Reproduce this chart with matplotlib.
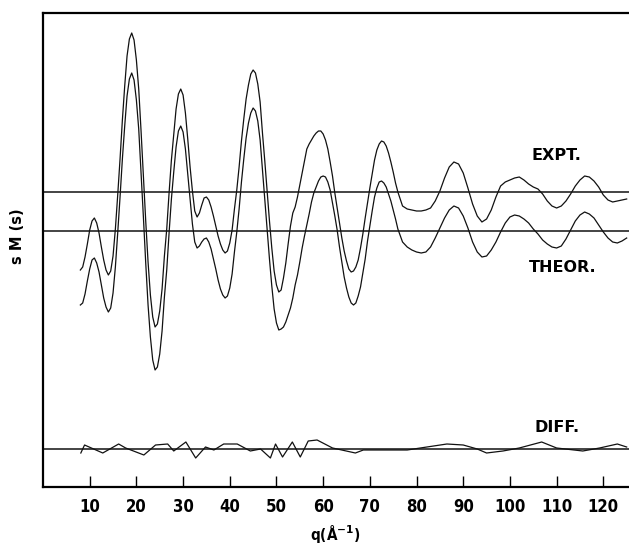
import matplotlib
matplotlib.use('Agg')
import matplotlib.pyplot as plt

# scattering variable q (A^-1): half steps up to 76, whole steps after
q = [i / 2 for i in range(16, 153)] + list(range(77, 126))

# experimental sM(s), relative to its own baseline (arbitrary units)
expt = [
    -78, -75, -65, -52, -38, -29, -26, -31, -41, -55,      # 8 - 12.5
    -68, -78, -83, -79, -64, -37, -3, 33, 72, 106,         # 13 - 17.5
    136, 153, 159, 152, 132, 103, 61, 16, -29, -70,        # 18 - 22.5
    -103, -125, -135, -132, -119, -97, -64, -37, -1, 32,   # 23 - 27.5
    58, 83, 98, 103, 97, 79, 53, 25, 1, -19,               # 28 - 32.5
    -25, -21, -13, -6, -5, -8, -15, -24, -34, -44,         # 33 - 37.5
    -52, -58, -61, -59, -51, -38, -17, 2, 25, 51,          # 38 - 42.5
    73, 93, 107, 118, 122, 119, 108, 90, 59, 31,           # 43 - 47.5
    1, -29, -56, -79, -93, -100, -98, -86, -71, -52,       # 48 - 52.5
    -34, -21, -15, -5, 7, 19, 31, 43, 48, 52,              # 53 - 57.5
    56, 59, 61, 61, 58, 52, 43, 30, 16, -1,                # 58 - 62.5
    -16, -31, -46, -59, -69, -77, -80, -79, -75, -68,      # 63 - 67.5
    -56, -42, -26, -11, 4, 18, 32, 42, 48, 51,             # 68 - 72.5
    50, 46, 39, 30, 20, 9, 0,                              # 73 - 76
    -14, -17, -18, -19, -19, -18, -16, -9, 1, 14,          # 77 - 86
    25, 30, 28, 19, 4, -12, -24, -30, -27, -18,            # 87 - 96
    -5, 6, 10, 12, 14, 15, 12, 8, 5, 3,                    # 97 - 106
    -2, -9, -14, -16, -14, -9, -2, 6, 12, 16,              # 107 - 116
    15, 11, 5, -3, -8, -10, -9, -8, -7]                    # 117 - 125

# theoretical sM(s)
theor = [
    -74, -72, -63, -50, -38, -29, -27, -32, -41, -54,
    -67, -76, -81, -77, -62, -36, -2, 34, 72, 105,
    135, 152, 158, 151, 131, 102, 59, 14, -32, -74,
    -106, -129, -139, -136, -123, -100, -66, -39, -2, 32,
    59, 84, 100, 105, 99, 82, 57, 31, 7, -11,
    -17, -15, -11, -8, -7, -11, -18, -28, -38, -49,
    -58, -64, -67, -65, -57, -43, -21, -1, 22, 49,
    72, 93, 108, 118, 123, 120, 110, 91, 61, 32,
    1, -28, -55, -78, -92, -99, -98, -96, -91, -84,
    -77, -67, -54, -44, -31, -17, -5, 6, 17, 29,
    38, 44, 50, 54, 55, 54, 49, 41, 28, 15,
    1, -16, -31, -46, -57, -66, -72, -74, -72, -65,
    -56, -42, -28, -10, 5, 20, 34, 43, 49, 50,
    48, 44, 37, 30, 21, 12, 2,
    -11, -16, -19, -21, -22, -21, -16, -7, 3, 13,
    21, 25, 23, 15, 3, -11, -21, -26, -25, -19,
    -11, -1, 8, 14, 16, 15, 12, 8, 2, -3,
    -9, -13, -16, -17, -15, -8, 1, 10, 16, 19,
    17, 13, 6, -1, -7, -11, -12, -10, -7]

# difference curve (expt - theor)
diff_q = [8.1, 8.9, 12.8, 16.2, 17.7, 21.6, 24.1, 26.7, 28.0, 30.6, 32.7, 34.8, 36.6,
          38.7, 41.6, 44.4, 46.6, 48.7, 49.8, 51.3, 53.4, 55.1, 56.8, 58.7, 62.0,
          63.0, 66.9, 68.6, 75.0, 78.0, 80.8, 86.5, 90.0, 93.0, 95.0, 98.5, 102.0,
          106.8, 110.0, 115.6, 119.2, 123.0, 125.0]
diff = [-4, 4, -4, 5, 1, -6, 4, 5, -2, 7, -9, 2, -1, 5, 5, -2, 0, -9, 5, -8, 7, -8,
        8, 9, 1, 0, -4, -1, -1, -1, 1, 5, 4, 0, -4, -2, 1, 7, 1, -2, 1, 5, 2]

# vertical offsets of the three baselines
offsets = {'EXPT.': 295, 'THEOR.': 256, 'DIFF.': 38}
xticks = [10, 20, 30, 40, 50, 60, 70, 80, 90, 100, 110, 120]

plt.rcParams['mathtext.fontset'] = 'custom'
plt.rcParams['mathtext.rm'] = 'DejaVu Sans:bold'
plt.rcParams['mathtext.default'] = 'rm'

fig = plt.figure(figsize=(6.29, 5.48), dpi=100)
ax = fig.add_axes([43 / 629, 61 / 548, 1 - 43 / 629, 474 / 548])

lc = '#111111'
for lab, series in [('EXPT.', expt), ('THEOR.', theor)]:
    off = offsets[lab]
    ax.plot(q, [v + off for v in series], color=lc, lw=0.9)
    ax.axhline(off, color=lc, lw=1.1)
ax.plot(diff_q, [v + offsets['DIFF.'] for v in diff], color=lc, lw=0.9)
ax.axhline(offsets['DIFF.'], color=lc, lw=1.1)

lab_font = dict(family='DejaVu Sans', fontweight='bold', fontsize=11.5, ha='center', va='center')
ax.text(110, 332, 'EXPT.', **lab_font)
ax.text(111.3, 220, 'THEOR.', **lab_font)
ax.text(110, 60, 'DIFF.', **lab_font)

ax.set_xlim(0, 125.5)
ax.set_ylim(0, 474)
ax.set_xticks(xticks)
ax.set_yticks([])
ax.tick_params(axis='x', direction='in', length=8, width=1, pad=8)
for t in ax.get_xticklabels():
    t.set_family('DejaVu Sans')
    t.set_stretch('condensed')
    t.set_fontweight('bold')
    t.set_fontsize(12)
for side in ['left', 'bottom', 'top']:
    ax.spines[side].set_linewidth(1.6)
ax.spines['right'].set_visible(False)

fig.text(335 / 629, 1 - 534 / 548, 'q(Å$^{-1}$)', family='DejaVu Sans', stretch='condensed',
         fontweight='bold', fontsize=11, ha='center', va='center')
fig.text(18 / 629, 1 - 236 / 548, 's M (s)', family='DejaVu Sans', fontweight='bold',
         fontsize=10.5, rotation=90, ha='center', va='center')

fig.savefig('out.png', dpi=100, facecolor='white')
